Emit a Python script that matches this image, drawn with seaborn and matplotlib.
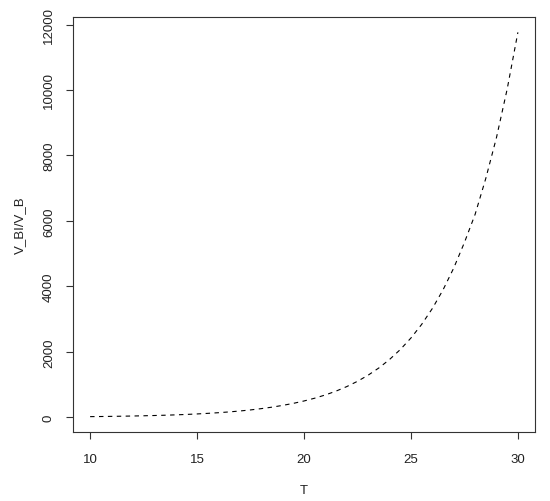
import numpy as np
import pandas as pd
import matplotlib
matplotlib.use("Agg")
import matplotlib.pyplot as plt
import seaborn as sns

# values
T = [10, 10.5, 11, 11.5, 12, 12.5, 13, 13.5, 14, 14.5, 15, 15.5, 16, 16.5,
     17, 17.5, 18, 18.5, 19, 19.5, 20, 20.5, 21, 21.5, 22, 22.5, 23, 23.5,
     24, 24.5, 25, 25.5, 26, 26.5, 27, 27.5, 28, 28.5, 29, 29.5, 30]
ratio = [21, 24.5, 29, 34, 40, 47, 55, 64, 75, 88, 103, 121, 141, 165,
         193, 226, 265, 310, 364, 426, 499, 584, 684, 801, 939, 1100, 1288, 1508,
         1767, 2069, 2423, 2838, 3324, 3893, 4560, 5340, 6200, 7300, 8550, 10030, 11760]
x_ticks = [10, 15, 20, 25, 30]
y_ticks = [0, 2000, 4000, 6000, 8000, 10000, 12000]

sns.set_style("ticks")
plt.rcParams['font.family'] = ['Liberation Sans', 'DejaVu Sans']

data = pd.DataFrame({'T': T, 'ratio': ratio})

fig = plt.figure(figsize=(5.5, 5.02), dpi=100)
ax = fig.add_axes([73/550, 1-433/502, (535-73)/550, (433-18)/502])
sns.lineplot(data=data, x='T', y='ratio', ax=ax, color='black',
             linewidth=0.8, linestyle=(0, (4, 4)))

# R-style 4% padding
xr = max(T) - min(T)
yr = max(ratio) - min(ratio)
ax.set_xlim(min(T) - 0.04*xr, max(T) + 0.04*xr)
ax.set_ylim(min(ratio) - 0.04*yr, max(ratio) + 0.04*yr)

ax.set_xticks(x_ticks)
ax.set_yticks(y_ticks)
ax.set_yticklabels([str(v) for v in y_ticks], rotation=90, va='center')
ax.tick_params(direction='out', length=5, width=0.8, color='#333333',
               labelsize=9.5, labelcolor='#222222')
ax.tick_params(axis='x', pad=10)
ax.tick_params(axis='y', pad=8)
for s in ax.spines.values():
    s.set_color('#333333')
    s.set_linewidth(0.8)
    s.set_visible(True)

ax.set_xlabel('T', fontsize=9.5, labelpad=14, color='#222222')
ax.set_ylabel('V_BI/V_B', fontsize=9.5, labelpad=12, color='#222222')

fig.savefig('out.png', dpi=100)
